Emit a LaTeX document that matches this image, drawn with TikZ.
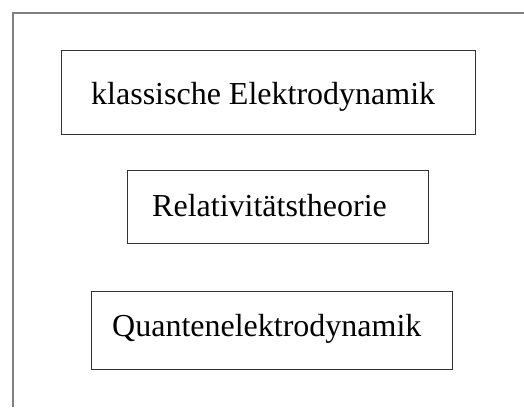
\documentclass[tikz,border=0pt]{standalone}
\usepackage{fontspec}
\setmainfont{Liberation Serif}
\begin{document}
\begin{tikzpicture}[x=1pt,y=-1pt,
  framebox/.style={draw=black!80,line width=1pt,rectangle,inner sep=0pt,anchor=north west},
  label/.style={font=\fontsize{32}{38}\selectfont,inner sep=0pt,anchor=base west,text=black}]
\useasboundingbox (0,0) rectangle (524,407);
\draw[gray,line width=1.5pt] (13,407) -- (13,13) -- (524,13);
\node[framebox,minimum width=414pt,minimum height=84pt] (b1) at (61,50) {};
\node[framebox,minimum width=301pt,minimum height=73pt] (b2) at (127,170) {};
\node[framebox,minimum width=361pt,minimum height=78pt] (b3) at (91,291) {};
\node[label] (t1) at (91,104.3) {klassische Elektrodynamik};
\node[label] (t2) at (152,216.7) {Relativitätstheorie};
\node[label] (t3) at (112,336) {Quantenelektrodynamik};
\end{tikzpicture}
\end{document}
